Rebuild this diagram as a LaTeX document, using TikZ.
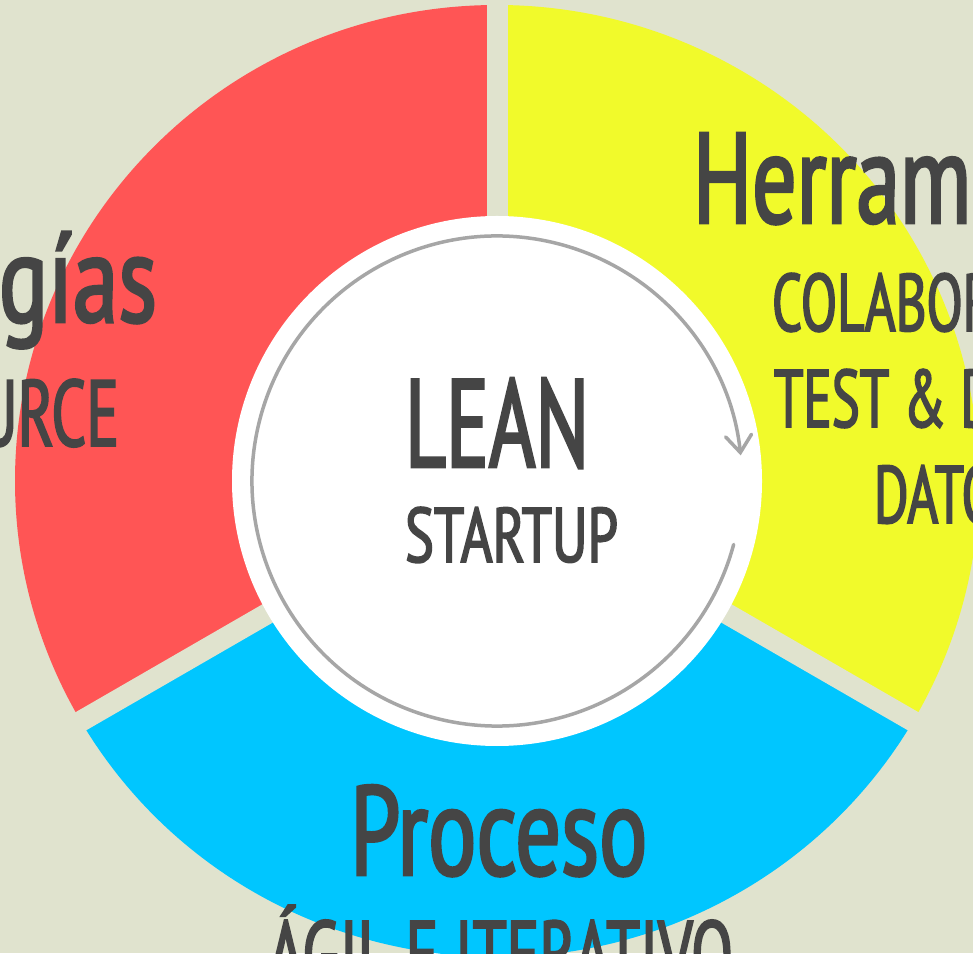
\documentclass[tikz,border=0pt]{standalone}
\usepackage{fontspec}
\setmainfont[FakeStretch=0.65, FakeBold=2]{PT Sans}
\usetikzlibrary{arrows.meta}
\definecolor{bgc}{HTML}{E0E3CE}
\definecolor{redc}{HTML}{FF5555}
\definecolor{yelc}{HTML}{F1FA2B}
\definecolor{bluc}{HTML}{00C6FF}
\definecolor{txtc}{HTML}{454545}
\definecolor{arrc}{HTML}{A6A6A6}
\newcommand\fsz[1]{\fontsize{#1}{#1}\selectfont}
\tikzset{
  lbl/.style={inner sep=0pt, outer sep=0pt, text=txtc},
  gap/.style={draw=bgc, line width=21pt},
  seg/.style={x radius=482pt, y radius=476pt}
}
\begin{document}
\begin{tikzpicture}[x=1pt,y=1pt]
\useasboundingbox (0,0) rectangle (973,953);
\clip (0,0) rectangle (973,953);
\fill[bgc] (0,0) rectangle (973,953);
\coordinate (C) at (497,472);
% segments
\fill[redc] (C) -- ([shift={(C)}]90:482pt and 476pt) arc[seg, start angle=90, end angle=210] -- cycle;
\fill[yelc] (C) -- ([shift={(C)}]-30:482pt and 476pt) arc[seg, start angle=-30, end angle=90] -- cycle;
\fill[bluc] (C) -- ([shift={(C)}]210:482pt and 476pt) arc[seg, start angle=210, end angle=330] -- cycle;
% gaps
\coordinate (g1) at ([shift={(C)}]90:620pt);
\coordinate (g2) at ([shift={(C)}]210:620pt);
\coordinate (g3) at ([shift={(C)}]330:620pt);
\draw[gap] (C) -- (g1);
\draw[gap] (C) -- (g2);
\draw[gap] (C) -- (g3);
% center
\node[circle, fill=white, minimum size=530pt, inner sep=0pt] (W) at (C) {};
\draw[arrc, line width=3.5pt, line cap=round, -{Straight Barb[length=17pt, width=26pt, line cap=round]}]
  ([shift={(C)}]-15:245pt) arc[start angle=-15, end angle=-354, radius=245pt];
% texts
\node[lbl, anchor=base west] (lean) at (405,486) {\resizebox{184pt}{89pt}{LEAN}};
\node[lbl, anchor=base west] (startup) at (405,391) {\resizebox{213pt}{55pt}{STARTUP}};
\node[lbl, anchor=base west] (proceso) at (350,78) {\resizebox{297pt}{90pt}{Proceso}};
\node[lbl, anchor=base] (agil) at (500.5,-34) {\resizebox{465pt}{!}{\fsz{81.4pt}ÁGIL E ITERATIVO}};
\node[lbl, anchor=base west] (herr) at (693,730) {\resizebox{278pt}{90pt}{Herram}};
\node[lbl, anchor=base west] (colab) at (772,622) {\fsz{81.4pt}COLABOR};
\node[lbl, anchor=base west] (test) at (774,526) {\fsz{81.4pt}TEST \& D};
\node[lbl, anchor=base west] (datos) at (874,430) {\fsz{81.4pt}DATO};
\node[lbl, anchor=base east] (gias) at (157,631) {\resizebox*{158pt}{117pt}{gías}};
\node[lbl, anchor=base east] (urce) at (119,507) {\fsz{94pt}URCE};
\end{tikzpicture}
\end{document}
